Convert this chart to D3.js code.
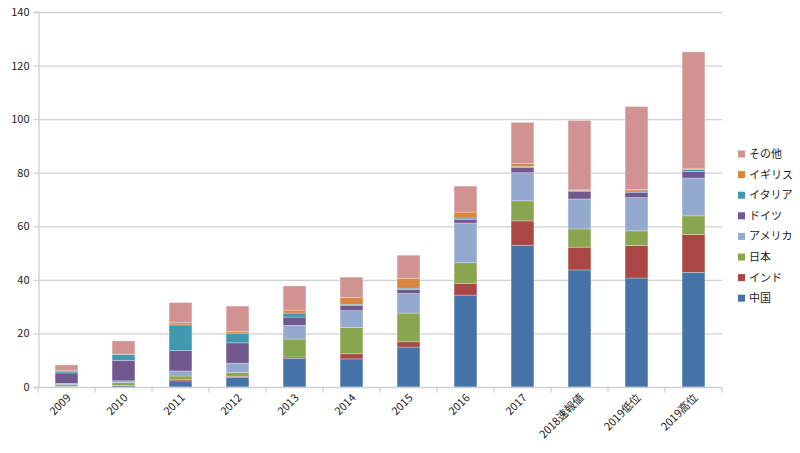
<!DOCTYPE html>
<html><head><meta charset="utf-8">
<script src="https://cdn.jsdelivr.net/npm/d3@7/dist/d3.min.js"></script>
<style>body{margin:0;background:#fff}svg{display:block}text{font-family:"Noto Sans CJK JP","Open Sans",sans-serif;fill:#222}</style>
</head><body><svg id="c" width="800" height="453"></svg>
<script>
const categories = ["2009","2010","2011","2012","2013","2014","2015","2016","2017","2018速報値","2019低位","2019高位"];
const seriesNames = ["中国","インド","日本","アメリカ","ドイツ","イタリア","イギリス","その他"];
const china   = [0.2, 0.5, 2.3, 3.6, 10.7, 10.5, 14.9, 34.3, 52.9, 43.7, 40.7, 42.8];
const india   = [0.05,0.1, 0.6, 0.4, 0.5, 1.9, 2.0, 4.4, 9.1, 8.5, 12.1, 14.1];
const japan   = [0.6, 1.0, 1.2, 1.4, 6.7, 9.8, 10.7, 7.7, 7.5, 6.8, 5.5, 7.0];
const usa     = [0.5, 0.7, 1.9, 3.5, 5.1, 6.3, 7.3, 14.8, 10.5, 11.2, 12.4, 14.1];
const germany = [3.9, 7.6, 7.6, 7.6, 3.1, 2.0, 1.5, 1.4, 1.9, 2.9, 2.0, 2.5];
const italy   = [0.7, 2.3, 9.6, 3.6, 1.5, 0.4, 0.5, 0.5, 0.4, 0.2, 0.5, 0.7];
const uk      = [0.1, 0.1, 0.8, 0.6, 1.1, 2.5, 3.7, 2.2, 1.1, 0.3, 0.5, 0.5];
const others  = [2.2, 4.9, 7.5, 9.5, 9.0, 7.6, 8.6, 9.7, 15.4, 25.9, 31.0, 43.4];
const yTicks = [0,20,40,60,80,100,120,140];
const colors = ["#4572A7","#AA4643","#89A54E","#93A9CF","#71588F","#4198AF","#DB843D","#D19392"];

const valuesBySeries = [china, india, japan, usa, germany, italy, uk, others];
const rows = categories.map((c,i)=>{const r={cat:c}; seriesNames.forEach((s,j)=>r[s]=valuesBySeries[j][i]); return r;});
const stacked = d3.stack().keys(seriesNames)(rows);

const svg = d3.select("#c");
const pL=38, pR=722, pT=12, pB=387;
const x = d3.scaleBand().domain(categories).range([pL,pR]).paddingInner(0.6).paddingOuter(0.3);
const xb = d3.scaleBand().domain(categories).range([pL,pR]);
const y = d3.scaleLinear().domain([0,140]).range([pB,pT]);

// gridlines
svg.append("g").selectAll("line").data(yTicks.filter(t=>t>0)).join("line")
  .attr("x1",pL).attr("x2",pR).attr("y1",d=>y(d)+0.5).attr("y2",d=>y(d)+0.5)
  .attr("stroke","#d0d0d0").attr("stroke-width",1.3);

// y axis
const ya = svg.append("g").attr("transform",`translate(${pL+0.5},0)`)
  .call(d3.axisLeft(y).tickValues(yTicks).tickSize(5).tickPadding(4));
ya.select(".domain").attr("stroke","#d0d0d0").attr("stroke-width",1.3);
ya.selectAll(".tick line").attr("stroke","#d0d0d0").attr("stroke-width",1.3);
ya.selectAll("text").attr("font-size",11).style("fill","#222");

// bars
svg.append("g").selectAll("g").data(stacked).join("g")
  .attr("fill",(d,i)=>colors[i])
  .selectAll("rect").data(d=>d).join("rect")
  .attr("x",d=>x(d.data.cat)).attr("width",x.bandwidth())
  .attr("y",d=>y(d[1])).attr("height",d=>Math.max(0,y(d[0])-y(d[1])))
  .attr("stroke","rgba(255,255,255,0.35)").attr("stroke-width",0.8);

// x axis
const xa = svg.append("g").attr("transform",`translate(0,${pB+0.5})`);
xa.append("line").attr("x1",pL).attr("x2",pR).attr("stroke","#d0d0d0").attr("stroke-width",1.3);
const bounds = categories.map(c=>xb(c)).concat([pR]);
xa.selectAll("line.t").data(bounds).join("line").attr("class","t")
  .attr("x1",d=>d).attr("x2",d=>d).attr("y1",0).attr("y2",5)
  .attr("stroke","#d0d0d0").attr("stroke-width",1.3);
xa.selectAll("text").data(categories).join("text")
  .attr("font-size",11).attr("text-anchor","end")
  .attr("transform",d=>`translate(${xb(d)+xb.bandwidth()/2+5},${11}) rotate(-45)`)
  .text(d=>d);

// legend
const lg = svg.append("g");
const order = seriesNames.map((s,i)=>i).reverse();
order.forEach((si,k)=>{
  const yy = 154 + k*20.6;
  lg.append("rect").attr("x",738).attr("y",yy-3.5).attr("width",7).attr("height",7).attr("fill",colors[si]);
  lg.append("text").attr("x",749).attr("y",yy+4).attr("font-size",11).text(seriesNames[si]);
});
</script></body></html>
